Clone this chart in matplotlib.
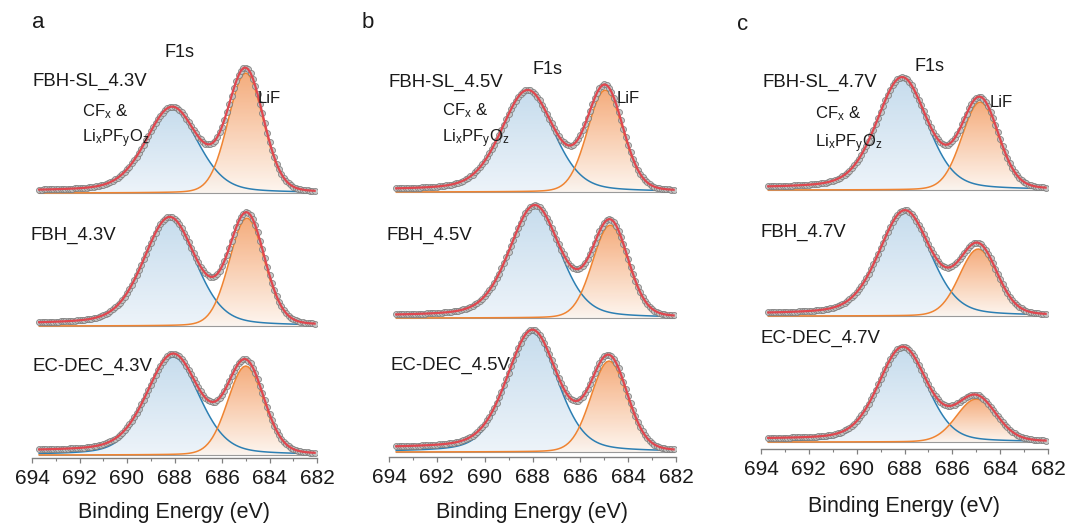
import numpy as np
import matplotlib
matplotlib.use("Agg")
import matplotlib.pyplot as plt
from matplotlib.patches import Polygon
from matplotlib.ticker import MultipleLocator

plt.rcParams['font.family'] = ['Liberation Sans', 'DejaVu Sans']
plt.rcParams['mathtext.fontset'] = 'custom'
plt.rcParams['mathtext.rm'] = 'Liberation Sans'
plt.rcParams['mathtext.it'] = 'Liberation Sans'

# ---------------- data ----------------
panel_letters = ['a', 'b', 'c']
sample_labels = [
    ['FBH-SL_4.3V', 'FBH_4.3V', 'EC-DEC_4.3V'],
    ['FBH-SL_4.5V', 'FBH_4.5V', 'EC-DEC_4.5V'],
    ['FBH-SL_4.7V', 'FBH_4.7V', 'EC-DEC_4.7V'],
]
peak_names = ['CF$_{\\rm x}$ &', 'Li$_{\\rm x}$PF$_{\\rm y}$O$_{\\rm z}$', 'LiF']
region_name = 'F1s'
xlabel = 'Binding Energy (eV)'
xticks = [694, 692, 690, 688, 686, 684, 682]

# scan range (eV)
scan_start = 693.7
scan_end = 682.1
scan_step = 0.1

# fitted components, rows = panels a/b/c, columns = top/middle/bottom spectrum
cf_center = [[688.10, 688.20, 688.05], [688.20, 687.90, 688.00], [688.10, 687.98, 688.06]]
cf_height = [[84, 107, 98], [100, 111, 119], [111, 104, 93]]
cf_fwhm = [[2.6, 2.6, 2.6], [2.6, 2.5, 2.5], [2.5, 2.55, 2.4]]
cf_lorentz = [[0.3, 0.3, 0.3], [0.3, 0.3, 0.3], [0.3, 0.3, 0.25]]

lif_center = [[685.00, 684.95, 685.00], [684.96, 684.75, 684.80], [684.84, 684.92, 685.00]]
lif_height = [[120, 108, 89], [102, 93, 91], [88, 67, 43]]
lif_fwhm = [[1.75, 1.75, 1.8], [1.75, 1.75, 1.8], [1.8, 1.85, 1.95]]
lif_lorentz = [[0.1, 0.1, 0.1], [0.1, 0.1, 0.1], [0.1, 0.1, 0.1]]

bg_step = [[2, 2, 4], [2, 2, 4], [2, 2, 3]]

# ---------------- layout (pixels of the 1067x523 canvas) ----------------
W, H = 1067, 523
ax_x694 = [32, 389, 761]
ax_x682 = [317, 676, 1048]
ax_ybot = [458, 457, 449]
ax_ytop = 40
base_px = [[193, 326, 455], [192, 318, 452], [190, 316, 442]]

letter_pos = [(32, 28), (362, 28), (737, 30)]
f1s_pos = [(180, 57), (547, 74), (930, 71)]
label_pos = [[(32, 86), (31, 240), (32, 371)],
             [(388, 87), (387, 240), (390, 370)],
             [(763, 87), (760, 237), (760, 343)]]
cf_txt_pos = [(82, 116), (442, 115), (815, 118)]
li_txt_pos = [(82, 142), (442, 142), (815, 147)]
lif_txt_pos = [(258, 103), (617, 103), (990, 107)]
xlabel_base = [518, 518, 512]

# ---------------- styles ----------------
c_env = '#e0474f'
c_cf = '#2c7fb3'
c_lif = '#ef8432'
c_base = '#9a9a9a'
cf_grad = ((0.93, 0.955, 0.978), (0.78, 0.865, 0.93))
lif_grad = ((0.995, 0.96, 0.93), (0.955, 0.62, 0.40))
txt_color = '#1a1a1a'


def pvoigt(e, c, h, w, eta):
    x = 2.0 * (e - c) / w
    return h * (eta / (1.0 + x ** 2) + (1.0 - eta) * np.exp(-np.log(2.0) * x ** 2))


def grad_fill(ax, e, base, y, cols, alpha, z):
    verts = np.column_stack([np.r_[e, e[::-1]], np.r_[base + y, np.full_like(e, base)]])
    patch = Polygon(verts, closed=True, facecolor='none', edgecolor='none')
    ax.add_patch(patch)
    n = 256
    t = np.linspace(0, 1, n)[:, None]
    lo = np.array(cols[0]); hi = np.array(cols[1])
    rgb = lo[None, :] * (1 - t) + hi[None, :] * t
    img = np.concatenate([rgb, np.full((n, 1), alpha)], axis=1)[:, None, :]
    im = ax.imshow(img, extent=(e.min(), e.max(), base, base + y.max()),
                   origin='lower', aspect='auto', zorder=z, interpolation='bilinear')
    im.set_clip_path(patch)


fig = plt.figure(figsize=(W / 100, H / 100), dpi=100)
energy = np.arange(scan_start, scan_end - 1e-9, -scan_step)


def ftext(xy, s, size, ha='left'):
    fig.text(xy[0] / W, 1 - xy[1] / H, s, fontsize=size, ha=ha, va='baseline', color=txt_color)


for p in range(3):
    left = ax_x694[p] / W
    width = (ax_x682[p] - ax_x694[p]) / W
    bottom = (H - ax_ybot[p]) / H
    height = (ax_ybot[p] - ax_ytop) / H
    ax = fig.add_axes([left, bottom, width, height])
    for s in range(3):
        base = ax_ybot[p] - base_px[p][s]
        cf = pvoigt(energy, cf_center[p][s], cf_height[p][s], cf_fwhm[p][s], cf_lorentz[p][s])
        lif = pvoigt(energy, lif_center[p][s], lif_height[p][s], lif_fwhm[p][s], lif_lorentz[p][s])
        tot = cf + lif
        cum = np.cumsum(tot[::-1])
        bg = bg_step[p][s] * (cum / cum[-1])[::-1]
        env = base + tot + bg
        grad_fill(ax, energy, base, cf, cf_grad, 1.0, 1)
        grad_fill(ax, energy, base, lif, lif_grad, 0.85, 2)
        ax.plot(energy, np.full_like(energy, base), color=c_base, lw=0.8, zorder=3)
        ax.plot(energy, base + cf, color=c_cf, lw=1.1, zorder=4)
        ax.plot(energy, base + lif, color=c_lif, lw=1.1, zorder=4)
        ax.plot(energy, env, ls='none', marker='o', ms=4.3, mfc='#c4c4c4', mec='#7a7a7a',
                mew=0.6, alpha=0.9, zorder=5)
        ax.plot(energy, env, color=c_env, lw=1.6, zorder=6)
    ax.set_xlim(694, 682)
    ax.set_ylim(0, ax_ybot[p] - ax_ytop)
    for side in ('left', 'right', 'top'):
        ax.spines[side].set_visible(False)
    ax.spines['bottom'].set_color('#808080')
    ax.spines['bottom'].set_linewidth(1.0)
    ax.patch.set_alpha(0)
    ax.set_yticks([])
    ax.set_xticks(xticks)
    ax.set_xticklabels([str(v) for v in xticks])
    ax.xaxis.set_minor_locator(MultipleLocator(1))
    ax.tick_params(axis='x', which='major', direction='out', length=3.8, width=0.9,
                   color='#808080', pad=4.0, labelsize=15, labelcolor=txt_color)
    ax.tick_params(axis='x', which='minor', direction='out', length=2.0, width=0.8,
                   color='#808080')
    ax.set_xlabel(xlabel, fontsize=15.5, color=txt_color)
    axh = ax_ybot[p] - ax_ytop
    ax.xaxis.set_label_coords(0.5, -(xlabel_base[p] - ax_ybot[p]) / axh)
    ax.xaxis.label.set_verticalalignment('baseline')

    ftext(letter_pos[p], panel_letters[p], 16)
    ftext(f1s_pos[p], region_name, 13, ha='center')
    for s in range(3):
        ftext(label_pos[p][s], sample_labels[p][s], 13.4)
    ftext(cf_txt_pos[p], peak_names[0], 12)
    ftext(li_txt_pos[p], peak_names[1], 12)
    ftext(lif_txt_pos[p], peak_names[2], 12)

fig.savefig('out.png', dpi=100, facecolor='white')
